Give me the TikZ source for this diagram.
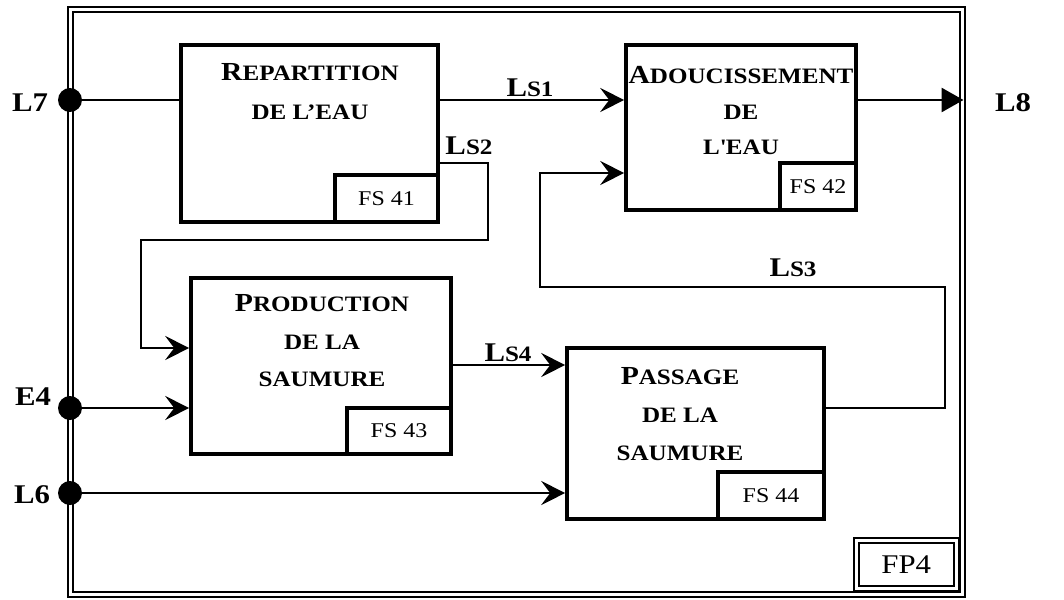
\documentclass[tikz,border=0pt]{standalone}
\usepackage{fontspec}
\setmainfont{Liberation Serif}[FakeStretch=1.14]
\usetikzlibrary{arrows.meta}
\newcommand{\BC}[2]{{\fontsize{13}{15}\selectfont #1}{\fontsize{11}{12}\selectfont #2}}
\newcommand{\SC}[1]{{\fontsize{11}{12}\selectfont #1}}
\begin{document}
\begin{tikzpicture}[x=0.5pt,y=-0.5pt,
 blk/.style={draw, line width=1.8pt, inner sep=0pt},
 fsbox/.style={draw, line width=1.8pt, anchor=south east, inner sep=0pt, font=\fontsize{10.5}{12}\selectfont},
 title/.style={align=center, inner sep=0pt},
 lab/.style={font=\bfseries\fontsize{13.5}{15}\selectfont, inner sep=0pt},
 dot/.style={circle, fill, inner sep=0pt, minimum size=12pt},
 conn/.style={line width=1.4pt},
 arr/.style={conn, -{Stealth[length=12pt,width=12pt,inset=4.5pt]}},
 dbl/.style={draw, line width=1pt, double, double distance=1.5pt, inner sep=0pt},
]
\useasboundingbox (0,0) rectangle (1064,599);
% frame
\node[dbl, minimum width=446.25pt, minimum height=292.5pt] (frame) at (516.25,302) {};
\node[dbl, minimum width=50pt, minimum height=24pt, font=\fontsize{13.5}{15}\selectfont] (fp4) at (906.25,564.5) {FP4};
% boxes
\node[blk, minimum width=128.5pt, minimum height=88.5pt] (b1) at (309.5,133.5) {};
\node[fsbox, minimum width=51.5pt, minimum height=23.5pt] (f1) at (b1.south east) {FS 41};
\node[blk, minimum width=115pt, minimum height=82.5pt] (b2) at (741,127.5) {};
\node[fsbox, minimum width=38pt, minimum height=23.5pt] (f2) at (b2.south east) {FS 42};
\node[blk, minimum width=130pt, minimum height=88pt] (b3) at (321,366) {};
\node[fsbox, minimum width=52pt, minimum height=23pt] (f3) at (b3.south east) {FS 43};
\node[blk, minimum width=128.5pt, minimum height=85.5pt] (b4) at (695.5,433.5) {};
\node[fsbox, minimum width=53pt, minimum height=23.5pt] (f4) at (b4.south east) {FS 44};
% titles
\node[title, font=\bfseries\fontsize{11}{19.5}\selectfont] (t1) at (310,92) {\BC{R}{EPARTITION}\\\SC{DE L’EAU}};
\node[title, font=\bfseries\fontsize{11}{17.75}\selectfont] (t2) at (741,111) {\BC{A}{DOUCISSEMENT}\\\SC{DE}\\\SC{L\textquotesingle EAU}};
\node[title, font=\bfseries\fontsize{11}{18.75}\selectfont] (t3) at (322,341) {\BC{P}{RODUCTION}\\\SC{DE LA}\\\SC{SAUMURE}};
\node[title, font=\bfseries\fontsize{11}{19}\selectfont] (t4) at (680,414) {\BC{P}{ASSAGE}\\\SC{DE LA}\\\SC{SAUMURE}};
% dots
\node[dot] (l7) at (70,100) {};
\node[dot] (e4) at (70,408) {};
\node[dot] (l6) at (70,493) {};
% labels
\node[lab] (nl7) at (30,103) {L7};
\node[lab] (ne4) at (33,397) {E4};
\node[lab] (nl6) at (32,495) {L6};
\node[lab] (nl8) at (1013,103) {L8};
\node[lab] (ls1) at (530,88) {L\SC{S1}};
\node[lab] (ls2) at (469,146) {L\SC{S2}};
\node[lab] (ls3) at (793,268) {L\SC{S3}};
\node[lab] (ls4) at (508,353) {L\SC{S4}};
% connectors
\draw[conn] (l7) -- (l7 -| b1.west);
\draw[arr] (l7 -| b1.east) -- (l7 -| b2.west);
\draw[conn, -{Triangle[length=11pt,width=12pt]}] (l7 -| b2.east) -- (l7 -| frame.east);
\coordinate (p1) at (488,163);
\coordinate (p2) at (488,240);
\coordinate (p3) at (141,240);
\coordinate (p4) at (141,348);
\draw[arr] (p1 -| b1.east) -- (p1) -- (p2) -- (p3) -- (p4) -- (p4 -| b3.west);
\draw[arr] (e4) -- (e4 -| b3.west);
\draw[arr] (l6) -- (l6 -| b4.west);
\coordinate (p5) at (0,365);
\draw[arr] (p5 -| b3.east) -- (p5 -| b4.west);
\coordinate (q1) at (945,408);
\coordinate (q2) at (945,287);
\coordinate (q3) at (540,287);
\coordinate (q4) at (540,173);
\draw[arr] (q1 -| b4.east) -- (q1) -- (q2) -- (q3) -- (q4) -- (q4 -| b2.west);
\end{tikzpicture}
\end{document}
